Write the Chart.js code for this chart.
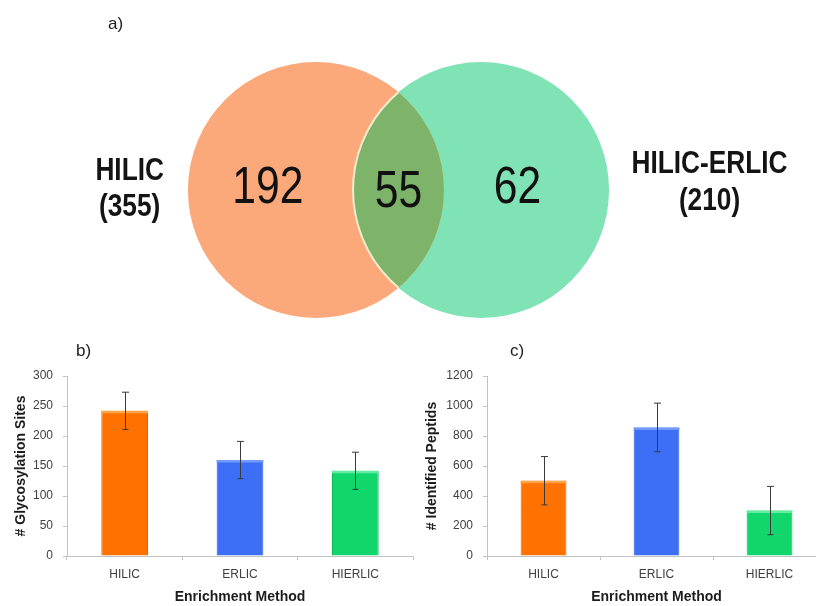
<!DOCTYPE html>
<html>
<head>
<meta charset="utf-8">
<title>Glycopeptide enrichment comparison</title>
<script src="https://cdn.jsdelivr.net/npm/chart.js@4.4.1/dist/chart.umd.min.js"></script>
<style>
  html, body { margin: 0; padding: 0; background: #ffffff; overflow: hidden; }
  body { position: relative; width: 816px; height: 606px; }
  .panel { position: absolute; }
  #vennBox { left: 0; top: 0; width: 816px; height: 340px; }
  #sitesBox { left: 0; top: 340px; width: 420px; height: 266px; }
  #peptidesBox { left: 420px; top: 340px; width: 420px; height: 266px; }
</style>
</head>
<body>
<div class="panel" id="vennBox"><canvas id="venn"></canvas></div>
<div class="panel" id="sitesBox"><canvas id="sites"></canvas></div>
<div class="panel" id="peptidesBox"><canvas id="peptides"></canvas></div>
<script>
// ---- Venn: glycosylation sites found by each workflow ----
const vennSets = ['HILIC', 'HILIC-ERLIC'];
const vennSetTotals = [355, 210];
const vennRegionCounts = [192, 55, 62]; // first only, shared, second only

// ---- Bar panels ----
const methods = ['HILIC', 'ERLIC', 'HIERLIC'];
const glycoSites = [242, 160, 142];
const glycoSitesErr = [31, 31, 31];
const peptides = [502, 857, 303];
const peptidesErr = [161, 162, 161];

const SANS = '"Liberation Sans", Arial, sans-serif';
const TICK_COLOR = '#404040';
const TITLE_COLOR = '#1c1c1c';
const AXIS_COLOR = '#c3c3c3';

const barFill = ['#ff7202', '#3c6ef6', '#10d66c'];
const barEdge = ['#e46200', '#2d5bd6', '#0bb85b'];
const barTop = ['#ffa449', '#739bff', '#62ec9f'];

// narrow face for the Venn labels (falls back to a squeezed regular face)
function narrowAvailable(ctx) {
  ctx.save();
  ctx.font = 'bold 40px "Liberation Sans Narrow", "Liberation Sans"';
  const a = ctx.measureText('HILIC-ERLIC 192').width;
  ctx.font = 'bold 40px "Liberation Sans"';
  const b = ctx.measureText('HILIC-ERLIC 192').width;
  ctx.restore();
  return a < b - 2;
}

function drawNarrow(ctx, text, x, y, size, weight, hasNarrow) {
  ctx.save();
  ctx.translate(x, y);
  if (hasNarrow) {
    ctx.font = `${weight} ${size}px "Liberation Sans Narrow"`;
  } else {
    ctx.font = `${weight} ${size}px "Liberation Sans"`;
    ctx.scale(0.82, 1);
  }
  ctx.textAlign = 'center';
  ctx.textBaseline = 'alphabetic';
  ctx.fillText(text, 0, 0);
  ctx.restore();
}

function panelLabel(text, x, y) {
  return {
    id: 'panelLabel',
    afterDraw(chart) {
      const ctx = chart.ctx;
      ctx.save();
      ctx.font = '17px ' + SANS;
      ctx.fillStyle = '#222222';
      ctx.textAlign = 'left';
      ctx.textBaseline = 'alphabetic';
      ctx.fillText(text, x, y);
      ctx.restore();
    }
  };
}

// circle geometry in scale units (1 unit = circle radius)
const CIRCLE_R = 1;
const HALF_GAP = 0.645;
const VX = [-3.113, 3.262];
const VY = [-1.172, 1.484];

// circle radius in pixels, taken from the x scale
function unitPixels(chart) {
  const s = chart.scales && chart.scales.x;
  if (!s) return 0;
  const d = Math.abs(s.getPixelForValue(CIRCLE_R) - s.getPixelForValue(0));
  return isFinite(d) ? d : 0;
}

const vennOverlay = {
  id: 'vennOverlay',
  afterDatasetsDraw(chart) {
    const ctx = chart.ctx;
    const sx = chart.scales.x, sy = chart.scales.y;
    const px = v => sx.getPixelForValue(v);
    const py = v => sy.getPixelForValue(v);
    const r = unitPixels(chart);
    const a = chart.getDatasetMeta(0).data[0];
    const b = chart.getDatasetMeta(1).data[0];
    // shared region
    ctx.save();
    ctx.beginPath();
    ctx.arc(a.x, a.y, r, 0, Math.PI * 2);
    ctx.clip();
    ctx.beginPath();
    ctx.arc(b.x, b.y, r, 0, Math.PI * 2);
    ctx.fillStyle = '#7db46a';
    ctx.fill();
    ctx.lineWidth = 2;
    ctx.strokeStyle = '#f3edcd';
    ctx.stroke();
    ctx.restore();

    const hasNarrow = narrowAvailable(ctx);
    ctx.fillStyle = '#111111';
    drawNarrow(ctx, String(vennRegionCounts[0]), px(-1.02), py(-0.10), 52, 'normal', hasNarrow);
    drawNarrow(ctx, String(vennRegionCounts[1]), px(0), py(-0.133), 52, 'normal', hasNarrow);
    drawNarrow(ctx, String(vennRegionCounts[2]), px(0.93), py(-0.10), 52, 'normal', hasNarrow);
    ctx.fillStyle = '#141414';
    drawNarrow(ctx, vennSets[0], px(-2.10), py(0.078), 32, 'bold', hasNarrow);
    drawNarrow(ctx, '(' + vennSetTotals[0] + ')', px(-2.10), py(-0.205), 32, 'bold', hasNarrow);
    drawNarrow(ctx, vennSets[1], px(2.43), py(0.133), 32, 'bold', hasNarrow);
    drawNarrow(ctx, '(' + vennSetTotals[1] + ')', px(2.43), py(-0.159), 32, 'bold', hasNarrow);
  }
};

const vennChart = new Chart(document.getElementById('venn'), {
  type: 'bubble',
  data: {
    datasets: [
      { label: vennSets[0], data: [{ x: -HALF_GAP, y: 0 }], backgroundColor: '#fba87b', borderWidth: 0 },
      { label: vennSets[1], data: [{ x: HALF_GAP, y: 0 }], backgroundColor: '#80e3b5', borderWidth: 0 }
    ]
  },
  options: {
    responsive: true,
    maintainAspectRatio: false,
    animation: false,
    events: [],
    layout: { padding: 0, autoPadding: false },
    plugins: { legend: { display: false }, tooltip: { enabled: false } },
    scales: {
      x: { type: 'linear', display: false, min: VX[0], max: VX[1] },
      y: { type: 'linear', display: false, min: VY[0], max: VY[1] }
    }
  },
  plugins: [vennOverlay, panelLabel('a)', 108, 28.5)]
});
// once the scales are laid out, size both bubbles to one unit of the x scale
const vennRadiusPx = unitPixels(vennChart);
vennChart.data.datasets.forEach(ds => ds.data.forEach(p => { p.r = vennRadiusPx; }));
vennChart.update('none');

const barGloss = {
  id: 'barGloss',
  afterDatasetsDraw(chart) {
    const ctx = chart.ctx;
    const meta = chart.getDatasetMeta(0);
    ctx.save();
    meta.data.forEach((bar, i) => {
      const { x, y, width } = bar.getProps(['x', 'y', 'width'], true);
      ctx.fillStyle = barTop[i];
      ctx.fillRect(x - width / 2, y, width, 2.5);
    });
    ctx.restore();
  }
};

const errorBars = {
  id: 'errorBars',
  afterDatasetsDraw(chart) {
    const ctx = chart.ctx;
    const ds = chart.data.datasets[0];
    const meta = chart.getDatasetMeta(0);
    const ys = chart.scales.y;
    ctx.save();
    ctx.strokeStyle = '#3a3a3a';
    ctx.lineWidth = 1;
    meta.data.forEach((bar, i) => {
      const v = ds.data[i], e = ds.errors[i];
      const x = Math.round(bar.x) + 0.5;
      const top = ys.getPixelForValue(v + e);
      const bot = ys.getPixelForValue(v - e);
      ctx.beginPath();
      ctx.moveTo(x, top); ctx.lineTo(x, bot);
      ctx.moveTo(x - 3.5, top); ctx.lineTo(x + 3.5, top);
      ctx.moveTo(x - 3, bot); ctx.lineTo(x + 3, bot);
      ctx.stroke();
    });
    ctx.restore();
  }
};

function barChart(id, values, errors, yMax, yStep, yTitle, titleOffset, padRight, label, labelX) {
  return new Chart(document.getElementById(id), {
    type: 'bar',
    data: {
      labels: methods,
      datasets: [{
        data: values,
        errors: errors,
        backgroundColor: barFill,
        borderColor: barEdge,
        borderWidth: { left: 1, right: 1, top: 0, bottom: 0 },
        barPercentage: 0.405,
        categoryPercentage: 1
      }]
    },
    options: {
      responsive: true,
      maintainAspectRatio: false,
      animation: false,
      events: [],
      layout: { padding: { top: 36, right: padRight, left: 0, bottom: 0 } },
      plugins: { legend: { display: false }, tooltip: { enabled: false } },
      scales: {
        x: {
          offset: true,
          grid: { offset: true, drawOnChartArea: false, tickLength: 4, color: AXIS_COLOR },
          border: { color: AXIS_COLOR },
          ticks: { color: TICK_COLOR, font: { family: SANS, size: 12 }, padding: 7 },
          title: { display: true, text: 'Enrichment Method', color: TITLE_COLOR, font: { family: SANS, size: 14, weight: 'bold' }, padding: { top: 0, bottom: 0 } },
          afterFit: s => { s.height = 50; }
        },
        y: {
          min: 0,
          max: yMax,
          ticks: { stepSize: yStep, color: TICK_COLOR, font: { family: SANS, size: 12 }, padding: 10, callback: v => String(v) },
          grid: { drawOnChartArea: false, tickLength: 4, color: AXIS_COLOR },
          border: { color: AXIS_COLOR },
          title: { display: true, text: yTitle, color: TITLE_COLOR, font: { family: SANS, size: 14, weight: 'bold' }, padding: { top: titleOffset, bottom: 0 } },
          afterFit: s => { s.width = 67; }
        }
      }
    },
    plugins: [barGloss, errorBars, panelLabel(label, labelX, 16)]
  });
}

barChart('sites', glycoSites, glycoSitesErr, 300, 50, '# Glycosylation Sites', 13, 7, 'b)', 76);
barChart('peptides', peptides, peptidesErr, 1200, 200, '# Identified Peptids', 4, 14, 'c)', 90);
</script>
</body>
</html>
